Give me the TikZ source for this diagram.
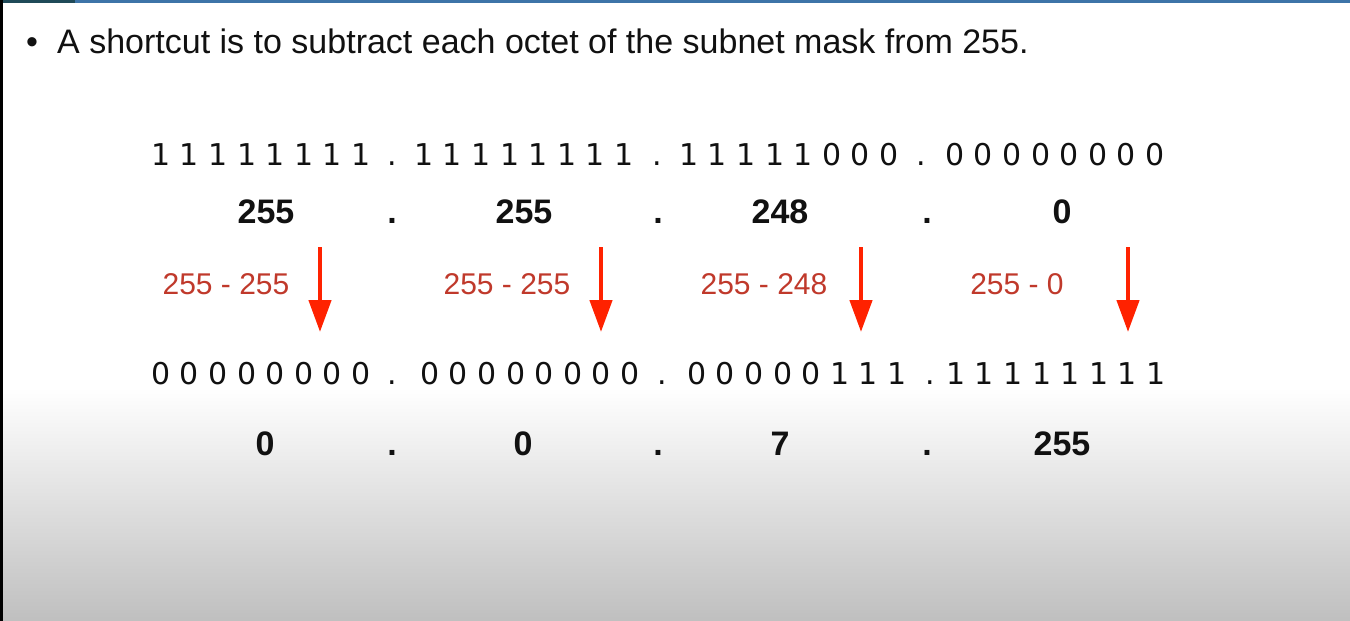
\documentclass[tikz,border=0pt]{standalone}
\usepackage{fontspec}
\setmainfont{Liberation Sans}
\newfontfamily\binfont{DejaVu Sans}
\usetikzlibrary{arrows.meta}
\definecolor{barblue}{HTML}{3D74A8}
\definecolor{bardark}{HTML}{1F4A58}
\definecolor{labred}{HTML}{C0392B}
\definecolor{arrred}{HTML}{FF2200}
\definecolor{txt}{HTML}{111111}
\tikzset{
  title/.style={anchor=base west, inner sep=0pt, font=\fontsize{34}{38}\selectfont, text=txt},
  binrow/.style={anchor=base, inner sep=0pt, font=\binfont\fontsize{30}{34}\selectfont, text=txt},
  boldnum/.style={anchor=base, inner sep=0pt, font=\bfseries\fontsize{34}{38}\selectfont, text=txt},
  sublabel/.style={anchor=base, inner sep=0pt, font=\fontsize{30}{33}\selectfont, text=labred},
  downarrow/.style={draw=arrred, line width=4.5pt, -{Triangle[width=22pt,length=32pt]}}
}
\begin{document}
\begin{tikzpicture}[x=1pt,y=-1pt]
\useasboundingbox (0,0) rectangle (1350,621);
\fill[white] (0,0) rectangle (1350,621);
\shade[top color=white, bottom color=gray!50] (0,388) rectangle (1350,621);
\fill[barblue] (0,0) rectangle (1350,3);
\fill[bardark] (0,0) rectangle (75,3);
\fill[black] (0,0) rectangle (2.5,621);

% title
\node[title] (bullet) at (26,53) {•};
\node[title] (head) at (57,53) {A shortcut is to subtract each octet of the subnet mask from 255.};

% row 1 binary
\node[binrow] (b1) at (261,165) {1 1 1 1 1 1 1 1};
\node[binrow] (d11) at (392,165) {.};
\node[binrow] (b2) at (524,165) {1 1 1 1 1 1 1 1};
\node[binrow] (d12) at (657,165) {.};
\node[binrow] (b3) at (789,165) {1 1 1 1 1 0 0 0};
\node[binrow] (d13) at (921,165) {.};
\node[binrow] (b4) at (1055,165) {0 0 0 0 0 0 0 0};

% row 2 decimal
\node[boldnum] (n1) at (266,223) {255};
\node[boldnum] (e11) at (392,223) {.};
\node[boldnum] (n2) at (524,223) {255};
\node[boldnum] (e12) at (658,223) {.};
\node[boldnum] (n3) at (780,223) {248};
\node[boldnum] (e13) at (927,223) {.};
\node[boldnum] (n4) at (1062,223) {0};

% labels
\node[sublabel] (l1) at (226,294) {255 - 255};
\node[sublabel] (l2) at (507,294) {255 - 255};
\node[sublabel] (l3) at (764,294) {255 - 248};
\node[sublabel] (l4) at (1017,294) {255 - 0};

% arrows
\coordinate (a1s) at (320,247); \coordinate (a1e) at (320,332);
\coordinate (a2s) at (601,247); \coordinate (a2e) at (601,332);
\coordinate (a3s) at (861,247); \coordinate (a3e) at (861,332);
\coordinate (a4s) at (1128,247); \coordinate (a4e) at (1128,332);
\draw[downarrow] (a1s) -- (a1e);
\draw[downarrow] (a2s) -- (a2e);
\draw[downarrow] (a3s) -- (a3e);
\draw[downarrow] (a4s) -- (a4e);

% row 3 binary
\node[binrow] (c1) at (261,384) {0 0 0 0 0 0 0 0};
\node[binrow] (d31) at (392,384) {.};
\node[binrow] (c2) at (530,384) {0 0 0 0 0 0 0 0};
\node[binrow] (d32) at (662,384) {.};
\node[binrow] (c3) at (797,384) {0 0 0 0 0 1 1 1};
\node[binrow] (d33) at (930,384) {.};
\node[binrow] (c4) at (1056,384) {1 1 1 1 1 1 1 1};

% row 4 decimal
\node[boldnum] (m1) at (265,455) {0};
\node[boldnum] (f11) at (392,455) {.};
\node[boldnum] (m2) at (523,455) {0};
\node[boldnum] (f12) at (658,455) {.};
\node[boldnum] (m3) at (780,455) {7};
\node[boldnum] (f13) at (927,455) {.};
\node[boldnum] (m4) at (1062,455) {255};
\end{tikzpicture}
\end{document}
